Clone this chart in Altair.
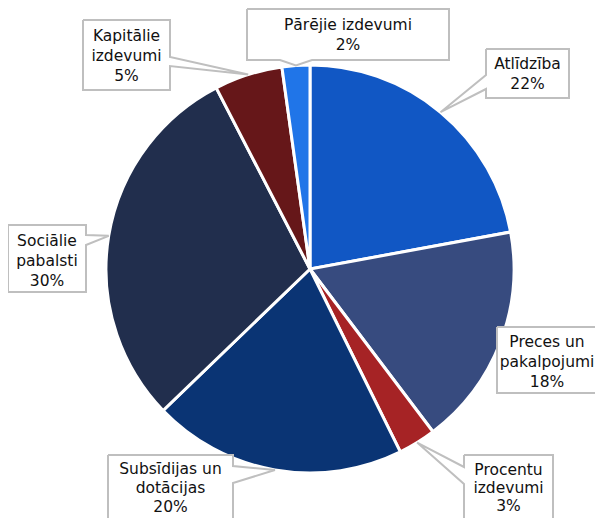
import math
import altair as alt
import pandas as pd

# ---- data ----
categories = ["Atlīdzība", "Preces un pakalpojumi", "Procentu izdevumi",
              "Subsīdijas un dotācijas", "Sociālie pabalsti",
              "Kapitālie izdevumi", "Pārējie izdevumi"]
values = [22.1, 17.6, 3.0, 20.1, 29.6, 5.4, 2.2]
label_lines = [["Atlīdzība"], ["Preces un", "pakalpojumi"], ["Procentu", "izdevumi"],
               ["Subsīdijas un", "dotācijas"], ["Sociālie", "pabalsti"],
               ["Kapitālie", "izdevumi"], ["Pārējie izdevumi"]]
colors = ["#1157C4", "#374B7F", "#A62325", "#0A3474", "#212E4D", "#661719", "#2075E8"]

# ---- layout (page pixel coordinates) ----
W, H = 587, 510
OFF = 8
CX, CY, R = 310, 269, 204
# box x1, y1, x2, y2, pointer side, pointer base start, pointer base end,
# text centre x, first line y, line step
boxes = [
    (486, 49, 569, 98, "left", 75, 89, 527.5, 64, 20),
    (497, 327, 613, 393, None, 0, 0, 547, 342, 20),
    (464, 455, 553, 532, "left", 467, 484, 508.5, 470, 18),
    (108, 455, 233, 528, "right", 466, 483, 170.5, 469, 19),
    (8, 225, 86, 292, "right", 235, 245, 47, 241, 20),
    (83, 20, 170, 90, "right", 57, 66, 126.5, 36, 20),
    (247, 9, 449, 60, "bottom", 280, 312, 348, 25, 20),
]

pie_df = pd.DataFrame({"category": categories, "value": values,
                       "idx": list(range(len(categories)))})

total = sum(values)
cum = 0.0
rect_rows, line_rows, text_rows = [], [], []
for i, (cat, v, lines, box) in enumerate(zip(categories, values, label_lines, boxes)):
    frac = (cum + v / 2.0) / total
    cum += v
    ang = 2 * math.pi * frac
    tip = (CX + R * math.sin(ang), CY - R * math.cos(ang))
    x1, y1, x2, y2, side, b1, b2, tx, ty, step = box
    rect_rows.append({"cat": cat, "x": x1, "x2": x2, "y": y1, "y2": y2})
    pts = [(x1, y1)]
    if side == "top":
        pts += [(b1, y1), tip, (b2, y1)]
    pts.append((x2, y1))
    if side == "right":
        pts += [(x2, b1), tip, (x2, b2)]
    pts.append((x2, y2))
    if side == "bottom":
        pts += [(b2, y2), tip, (b1, y2)]
    pts.append((x1, y2))
    if side == "left":
        pts += [(x1, b2), tip, (x1, b1)]
    pts.append((x1, y1))
    for k, (px, py) in enumerate(pts):
        line_rows.append({"cat": cat, "k": k, "x": px, "y": py})
    all_lines = lines + [f"{round(v)}%"]
    for j, t in enumerate(all_lines):
        text_rows.append({"cat": cat, "x": tx, "y": ty + step * j, "t": t})

xs = alt.Scale(domain=[OFF, OFF + W], range=[0, W])
ys = alt.Scale(domain=[OFF, OFF + H], range=[0, H])

pie = alt.Chart(pie_df).mark_arc(outerRadius=R, stroke="white", strokeWidth=3).encode(
    theta=alt.Theta("value:Q", stack=True),
    color=alt.Color("category:N", scale=alt.Scale(domain=categories, range=colors), legend=None),
    order=alt.Order("idx:Q"),
    x=alt.value(CX - OFF),
    y=alt.value(CY - OFF),
)

rects = alt.Chart(pd.DataFrame(rect_rows)).mark_rect(fill="white").encode(
    x=alt.X("x:Q", scale=xs, axis=None),
    x2="x2:Q",
    y=alt.Y("y:Q", scale=ys, axis=None),
    y2="y2:Q",
)

outlines = alt.Chart(pd.DataFrame(line_rows)).mark_line(
    stroke="#BFBFBF", strokeWidth=2, strokeJoin="miter").encode(
    x=alt.X("x:Q", scale=xs, axis=None),
    y=alt.Y("y:Q", scale=ys, axis=None),
    detail="cat:N",
    order=alt.Order("k:Q"),
)

texts = alt.Chart(pd.DataFrame(text_rows)).mark_text(
    font="DejaVu Sans", fontSize=15.5, color="#111111", align="center", baseline="middle").encode(
    x=alt.X("x:Q", scale=xs, axis=None),
    y=alt.Y("y:Q", scale=ys, axis=None),
    text="t:N",
)

chart = alt.layer(pie, rects, outlines, texts).properties(
    width=W, height=H, padding=0, autosize=alt.AutoSizeParams(type="none"),
    background="white",
).configure_view(stroke=None)

chart.save("out.html", embed_options={"renderer": "svg", "actions": False})
